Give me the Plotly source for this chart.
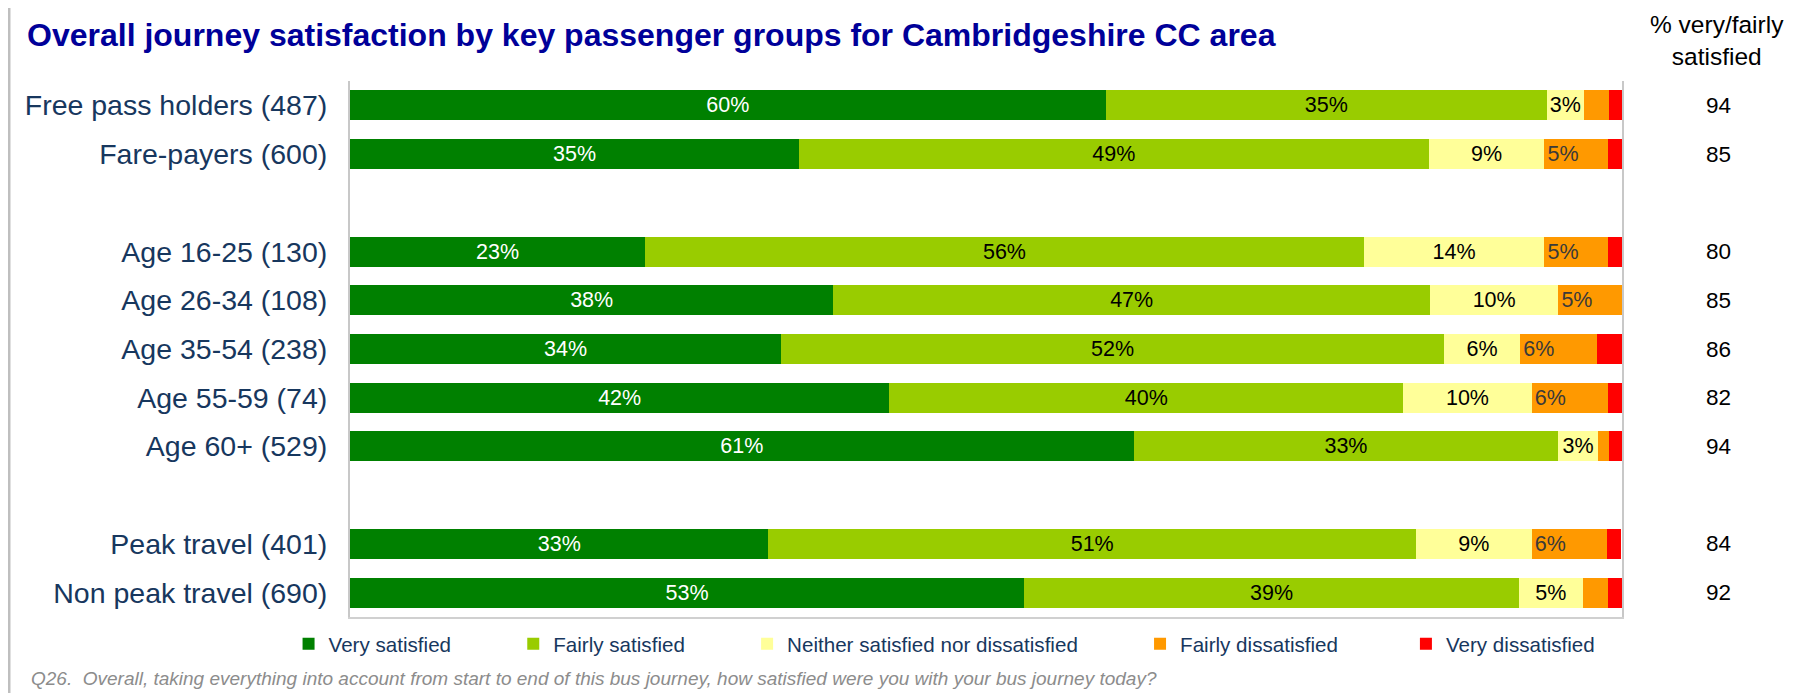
import plotly.graph_objects as go

# ---- data ----
categories = ["Free pass holders (487)", "Fare-payers (600)", " ",
              "Age 16-25 (130)", "Age 26-34 (108)", "Age 35-54 (238)",
              "Age 55-59 (74)", "Age 60+ (529)", "  ",
              "Peak travel (401)", "Non peak travel (690)"]

very_satisfied      = [59.4, 35.3, None, 23.2, 38.0, 33.9, 42.4, 61.6, None, 32.9, 53.0]
fairly_satisfied    = [34.7, 49.5, None, 56.5, 46.9, 52.1, 40.4, 33.4, None, 50.9, 38.9]
neither             = [2.9, 9.1, None, 14.2, 10.1, 6.0, 10.1, 3.1, None, 9.1, 5.0]
fairly_dissatisfied = [2.0, 5.0, None, 5.0, 5.0, 6.0, 6.0, 0.9, None, 5.9, 2.0]
very_dissatisfied   = [1.1, 1.1, None, 1.1, 0.0, 2.0, 1.1, 1.1, None, 1.1, 1.1]

very_satisfied_lbl      = [60, 35, None, 23, 38, 34, 42, 61, None, 33, 53]
fairly_satisfied_lbl    = [35, 49, None, 56, 47, 52, 40, 33, None, 51, 39]
neither_lbl             = [3, 9, None, 14, 10, 6, 10, 3, None, 9, 5]
fairly_dissatisfied_lbl = [None, 5, None, 5, 5, 6, 6, None, None, 6, None]
very_dissatisfied_lbl   = [None] * 11

pct_very_fairly = [94, 85, None, 80, 85, 86, 82, 94, None, 84, 92]

series_names = ["Very satisfied", "Fairly satisfied",
                "Neither satisfied nor dissatisfied",
                "Fairly dissatisfied", "Very dissatisfied"]
colors = ["#008000", "#99CC00", "#FFFF99", "#FF9900", "#FF0000"]
text_colors = ["#FFFFFF", "#000000", "#000000", "#3A3A3A", "#000000"]
anchors = ["middle", "middle", "middle", "start", "middle"]
legend_pads = [10, 10, 10, 11, 0]

FONT = "Liberation Sans, Arial, sans-serif"
NAVY = "#17375E"

series = [very_satisfied, fairly_satisfied, neither, fairly_dissatisfied, very_dissatisfied]
labels = [very_satisfied_lbl, fairly_satisfied_lbl, neither_lbl,
          fairly_dissatisfied_lbl, very_dissatisfied_lbl]

fig = go.Figure()
for i, (name, vals, lbl) in enumerate(zip(series_names, series, labels)):
    txt = [f"{v}%" if v is not None else "" for v in lbl]
    fig.add_trace(go.Bar(
        y=categories, x=vals, orientation="h",
        name=name + "\u00a0" * legend_pads[i],
        marker=dict(color=colors[i], line=dict(width=0)),
        width=0.616,
        text=txt, textposition="inside", insidetextanchor=anchors[i],
        textfont=dict(family=FONT, size=21.5, color=text_colors[i]),
        constraintext="none", cliponaxis=False,
        hoverinfo="skip",
    ))

# right-hand column values
for cat, v in zip(categories, pct_very_fairly):
    if v is None:
        continue
    fig.add_annotation(x=1.0755, xref="paper", y=cat, yref="y", text=str(v),
                       showarrow=False, xanchor="center", yanchor="middle",
                       font=dict(family=FONT, size=22.5, color="#000000"))

fig.add_annotation(x=1.0747, xref="paper", y=1.076, yref="paper",
                   text="% very/fairly<br>satisfied", showarrow=False,
                   xanchor="center", yanchor="middle", align="center",
                   font=dict(family=FONT, size=24.5, color="#000000"))

# title
fig.add_annotation(x=-0.2552, xref="paper", y=1.086, yref="paper",
                   text="<b>Overall journey satisfaction by key passenger groups for Cambridgeshire CC area</b>",
                   showarrow=False, xanchor="left", yanchor="middle",
                   font=dict(family=FONT, size=32, color="#000099"))

# footnote
fig.add_annotation(x=-0.2524, xref="paper", y=-0.115, yref="paper",
                   text="<i>Q26.  Overall, taking everything into account from start to end of this bus journey, how satisfied were you with your bus journey today?</i>",
                   showarrow=False, xanchor="left", yanchor="middle",
                   font=dict(family=FONT, size=19, color="#8C8C8C"))

# outer frame lines (left and top)
fig.add_shape(type="line", xref="paper", yref="paper",
              x0=-0.2681, x1=-0.2681, y0=1.1437, y1=-0.16,
              line=dict(color="#BFBFBF", width=3))
fig.add_shape(type="line", xref="paper", yref="paper",
              x0=-0.2692, x1=1.16, y0=1.1437, y1=1.1437,
              line=dict(color="#BFBFBF", width=3))

fig.update_layout(
    barmode="stack",
    width=1804, height=693,
    margin=dict(l=342, r=190, t=73, b=84, pad=0),
    paper_bgcolor="white", plot_bgcolor="white",
    font=dict(family=FONT, color=NAVY),
    showlegend=True,
    legend=dict(orientation="h", x=-0.0483, xanchor="left",
                y=-0.05, yanchor="middle",
                font=dict(family=FONT, size=20.6, color=NAVY),
                bgcolor="rgba(0,0,0,0)", traceorder="normal",
                itemclick=False, itemdoubleclick=False),
    xaxis=dict(range=[0, 100], showgrid=False, zeroline=False,
               showticklabels=False, showline=True, linecolor="#D0D0D0",
               linewidth=2, ticks="", fixedrange=True),
    yaxis=dict(categoryorder="array", categoryarray=categories,
               range=[10.5, -0.5], showgrid=False, zeroline=False,
               showline=True, linecolor="#C8C8C8", linewidth=2, mirror=True,
               ticks="", ticklabelstandoff=15,
               tickfont=dict(family=FONT, size=28.5, color=NAVY),
               fixedrange=True),
)

fig.write_html("out.html")
